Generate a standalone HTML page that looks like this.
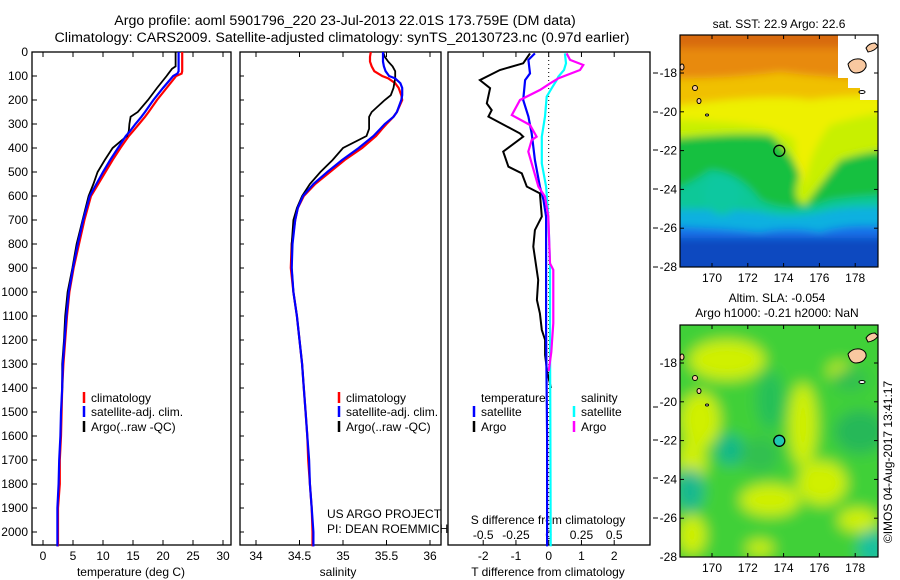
<!DOCTYPE html>
<html><head><meta charset="utf-8">
<style>
html,body{margin:0;padding:0;background:#fff;}
svg{display:block;font-family:"Liberation Sans",sans-serif;}
text{font-size:12px;fill:#000;}
text.ttl{font-size:14.2px;}
</style></head>
<body>
<svg id="fig" width="900" height="580" viewBox="0 0 900 580" xmlns="http://www.w3.org/2000/svg">
<defs>
<filter id="blur3" x="-10%" y="-10%" width="120%" height="120%"><feGaussianBlur stdDeviation="4"/></filter>
<filter id="blur6" x="-20%" y="-20%" width="140%" height="140%"><feGaussianBlur stdDeviation="7"/></filter>
<clipPath id="clipTop"><rect x="680" y="35" width="198" height="232"/></clipPath>
<clipPath id="clipBot"><rect x="680" y="325" width="198" height="232"/></clipPath>
</defs>
<text class="ttl" x="345" y="25" text-anchor="middle">Argo profile: aoml 5901796_220 23-Jul-2013 22.01S 173.759E (DM data)</text>
<text class="ttl" x="342" y="42" text-anchor="middle">Climatology: CARS2009. Satellite-adjusted climatology: synTS_20130723.nc (0.97d earlier)</text>
<g id="p1"></g>
<g id="p2"></g>
<g id="p3"></g>
<g id="m1"></g>
<g id="m2"></g>
<text transform="translate(892,462) rotate(-90)" text-anchor="middle">©IMOS 04-Aug-2017 13:41:17</text>
</svg>
<script>
// ---------- data ----------
const tempDepths = [0,60,70,80,90,100,150,200,250,270,300,330,350,400,450,500,550,600,700,800,900,1000,1100,1200,1300,1400,1500,1600,1700,1800,1900,2000,2060];
const tempClim   = [23.2,23.2,23.2,23.2,23.1,22.2,20.6,19.0,17.6,17.0,16.0,15.0,14.3,12.9,11.6,10.4,9.2,8.0,6.9,6.0,5.1,4.4,4.0,3.7,3.4,3.2,3.1,3.0,2.8,2.8,2.5,2.5,2.5];
const tempSat    = [22.6,22.6,22.6,22.6,22.4,21.7,20.0,18.4,17.0,16.4,15.4,14.5,13.8,12.5,11.2,10.0,8.9,7.8,6.7,5.8,5.0,4.3,3.9,3.6,3.3,3.2,3.0,2.9,2.7,2.6,2.4,2.4,2.4];
const tempArgo   = [22.1,22.1,21.5,21.2,20.9,20.6,19.0,17.5,15.8,14.6,14.4,14.3,14.0,11.6,10.3,9.1,8.4,7.6,6.6,5.6,4.9,4.1,3.7,3.5,3.2,3.2];
const salDepths = [0,20,40,60,80,100,110,130,150,180,200,250,270,300,320,350,400,450,500,550,600,650,700,800,900,1000,1100,1200,1300,1400,1500,1600,1700,1800,1900,2000,2060];
const salClim   = [35.32,35.31,35.31,35.33,35.36,35.45,35.52,35.6,35.64,35.67,35.68,35.62,35.58,35.5,35.45,35.38,35.22,35.02,34.85,34.68,34.55,34.48,34.45,34.41,34.40,34.43,34.47,34.5,34.53,34.55,34.57,34.59,34.6,34.62,34.64,34.65,34.65];
const salSat    = [35.46,35.46,35.46,35.47,35.49,35.53,35.6,35.66,35.68,35.68,35.67,35.62,35.58,35.48,35.43,35.35,35.18,34.99,34.82,34.66,34.54,34.48,34.45,34.42,34.41,34.43,34.47,34.5,34.53,34.55,34.57,34.59,34.61,34.62,34.64,34.66,34.66];
const salArgo   = [35.46,35.48,35.52,35.57,35.6,35.6,35.6,35.59,35.58,35.55,35.48,35.33,35.3,35.3,35.3,35.27,35.0,34.88,34.74,34.62,34.53,34.47,34.43,34.41,34.41,34.43,34.47,34.5,34.53,34.55];
const tdArgoDepth = [6,47,75,117,151,214,242,269,339,353,415,478,506,561,589,686,742,811,950,1033,1089,1158,1200,1262,1330,1400];
const tdArgo      = [-0.57,-0.78,-1.49,-2.1,-1.79,-1.89,-1.74,-1.84,-0.88,-0.78,-1.39,-1.23,-0.82,-0.67,-0.27,-0.21,-0.42,-0.47,-0.32,-0.36,-0.27,-0.21,-0.11,-0.11,-0.05,0.07];
const tdSatDepth = [6,33,89,117,200,269,339,450,561,617,686,1158,1300,1600,2060];
const tdSat      = [-0.42,-0.62,-0.57,-0.72,-0.78,-0.62,-0.52,-0.42,-0.27,-0.16,-0.08,-0.08,-0.07,-0.05,-0.05];
const sdSatDepth = [6,47,75,103,117,151,186,269,353,464,561,686,881,1158,1500,2060];
const sdSat      = [0.124,0.132,0.117,0.073,0.061,0.023,-0.015,-0.028,-0.053,-0.053,-0.02,-0.003,0.01,0.01,0.012,0.015];
const sdArgoDepth = [6,33,54,75,110,131,158,200,263,304,353,367,415,464,561,603,686,881,908,1130,1250,1330];
const sdArgo      = [0.137,0.163,0.264,0.239,0.073,0.01,-0.066,-0.219,-0.282,-0.143,-0.092,-0.13,-0.156,-0.13,-0.079,-0.028,-0.003,0.01,0.035,0.035,0.02,0.0];
const depthTicks = [0,100,200,300,400,500,600,700,800,900,1000,1100,1200,1300,1400,1500,1600,1700,1800,1900,2000];
const tempTicks = [0,5,10,15,20,25,30];
const salTicks = [34,34.5,35,35.5,36];
const tdTicks = [-2,-1,0,1,2];
const sdTicks = [-0.5,-0.25,0,0.25,0.5];
const latTicks = [-18,-20,-22,-24,-26,-28];
const lonTicks = [170,172,174,176,178];
const argoLon = 173.759, argoLat = -22.01;

// ---------- helpers ----------
const NS='http://www.w3.org/2000/svg';
function mk(parent,tag,attrs,txt){const e=document.createElementNS(NS,tag);for(const k in attrs)e.setAttribute(k,attrs[k]);if(txt!==undefined)e.textContent=txt;parent.appendChild(e);return e;}
const TOP=52, BOT=545;
const yD = d => TOP + d*0.24;
function poly(parent,xs,ds,xf,color,w,name){
  const pts=xs.map((v,i)=>xf(v).toFixed(1)+','+yD(ds[i]).toFixed(1)).join(' ');
  const e=mk(parent,'polyline',{points:pts,fill:'none',stroke:color,'stroke-width':w,'stroke-linejoin':'miter'});
  
  
}
function frame(g,x0,x1,name){
  const r=mk(g,'rect',{x:x0,y:TOP,width:x1-x0,height:BOT-TOP,fill:'none',stroke:'#000','stroke-width':1.3});
  
  
}
function legend(g,x,y,color,label,name){
  mk(g,'line',{x1:x,y1:y-10,x2:x,y2:y+1,stroke:color,'stroke-width':2.5});
  const t=mk(g,'text',{x:x+7,y:y},label);
  
  
}

// ---------- panel 1 ----------
const p1=document.getElementById('p1');
const xT = t => 43 + t*6;
frame(p1,32,231,'temperature-axes');
depthTicks.forEach(d=>{
  mk(p1,'line',{x1:32,y1:yD(d),x2:37,y2:yD(d),stroke:'#000'});
  const t=mk(p1,'text',{x:28,y:yD(d)+4,'text-anchor':'end'},String(d));
  
  
});
tempTicks.forEach(v=>{
  mk(p1,'line',{x1:xT(v),y1:TOP,x2:xT(v),y2:TOP+5,stroke:'#000'});
  mk(p1,'line',{x1:xT(v),y1:BOT,x2:xT(v),y2:BOT-5,stroke:'#000'});
  const t=mk(p1,'text',{x:xT(v),y:560,'text-anchor':'middle'},String(v));
  
  
});
mk(p1,'text',{x:131,y:576,'text-anchor':'middle',},'temperature (deg C)');
poly(p1,tempClim,tempDepths,xT,'#ff0000',2.2,'temp-climatology-line');
poly(p1,tempArgo,tempDepths.slice(0,tempArgo.length),xT,'#000',1.8,'temp-argo-line');
poly(p1,tempSat,tempDepths,xT,'#0000ff',2.2,'temp-satellite-line');
legend(p1,84,402,'#ff0000','climatology','legend-climatology');
legend(p1,84,416,'#0000ff','satellite-adj. clim.','legend-satellite');
legend(p1,84,431,'#000','Argo(..raw -QC)','legend-argo');

// ---------- panel 2 ----------
const p2=document.getElementById('p2');
const xS = s => 256 + (s-34)*87;
frame(p2,240,441,'salinity-axes');
depthTicks.forEach(d=>{mk(p2,'line',{x1:240,y1:yD(d),x2:244,y2:yD(d),stroke:'#000'});});
salTicks.forEach(v=>{
  mk(p2,'line',{x1:xS(v),y1:TOP,x2:xS(v),y2:TOP+5,stroke:'#000'});
  mk(p2,'line',{x1:xS(v),y1:BOT,x2:xS(v),y2:BOT-5,stroke:'#000'});
  const t=mk(p2,'text',{x:xS(v),y:560,'text-anchor':'middle'},String(v));
  
  
});
mk(p2,'text',{x:338,y:576,'text-anchor':'middle',},'salinity');
poly(p2,salClim,salDepths,xS,'#ff0000',2.2,'sal-climatology-line');
poly(p2,salArgo,salDepths.slice(0,salArgo.length),xS,'#000',1.8,'sal-argo-line');
poly(p2,salSat,salDepths,xS,'#0000ff',2.2,'sal-satellite-line');
legend(p2,339,402,'#ff0000','climatology','legend-climatology-2');
legend(p2,339,416,'#0000ff','satellite-adj. clim.','legend-satellite-2');
legend(p2,339,431,'#000','Argo(..raw -QC)','legend-argo-2');
mk(p2,'text',{x:327,y:518,},'US ARGO PROJECT');
mk(p2,'text',{x:327,y:533,},'PI: DEAN ROEMMICH');

// ---------- panel 3 ----------
const p3=document.getElementById('p3');
const xTD = v => 548.7 + v*32.75;
const xSD = v => 548.7 + v*131;
frame(p3,448,650,'difference-axes');
mk(p3,'line',{x1:548.7,y1:TOP,x2:548.7,y2:BOT,stroke:'#000','stroke-dasharray':'1,3'});
tdTicks.forEach(v=>{
  mk(p3,'line',{x1:xTD(v),y1:TOP,x2:xTD(v),y2:TOP+5,stroke:'#000'});
  const t=mk(p3,'text',{x:xTD(v),y:560,'text-anchor':'middle'},String(v));
  
  
});
sdTicks.forEach(v=>{
  mk(p3,'line',{x1:xSD(v),y1:BOT,x2:xSD(v),y2:BOT-5,stroke:'#000'});
  const t=mk(p3,'text',{x:xSD(v),y:539,'text-anchor':'middle'},String(v));
  
  
});
mk(p3,'text',{x:548,y:524,'text-anchor':'middle',},'S difference from climatology');
mk(p3,'text',{x:548,y:576,'text-anchor':'middle',},'T difference from climatology');
[73,112,150,189,228,267,407,440,478,518].forEach(y=>mk(p3,'line',{x1:653,y1:y,x2:658,y2:y,stroke:'#000'}));
poly(p3,tdArgo,tdArgoDepth,xTD,'#000',2,'t-diff-argo-line');
poly(p3,tdSat,tdSatDepth,xTD,'#0000ff',2.2,'t-diff-satellite-line');
poly(p3,sdSat,sdSatDepth,xSD,'#00ffff',2.2,'s-diff-satellite-line');
poly(p3,sdArgo,sdArgoDepth,xSD,'#ff00ff',2.2,'s-diff-argo-line');
mk(p3,'text',{x:481,y:402,},'temperature');
mk(p3,'text',{x:581,y:402,},'salinity');
legend(p3,474,416,'#0000ff','satellite','legend-t-satellite');
legend(p3,474,431,'#000','Argo','legend-t-argo');
legend(p3,574,416,'#00ffff','satellite','legend-s-satellite');
legend(p3,574,431,'#ff00ff','Argo','legend-s-argo');

// ---------- maps ----------
const mx = lon => 712 + (lon-170)*17.9;
function mapAxes(g,top,name){
  const bot=top+232;
  const ly = lat => top + 38 + (-lat-18)*19.4;
  const r=mk(g,'rect',{x:680,y:top,width:198,height:232,fill:'none',stroke:'#000','stroke-width':1.2});
  
  
  latTicks.forEach(l=>{
    mk(g,'line',{x1:680,y1:ly(l),x2:684,y2:ly(l),stroke:'#000'});
    mk(g,'line',{x1:878,y1:ly(l),x2:874,y2:ly(l),stroke:'#000'});
    const t=mk(g,'text',{x:677,y:ly(l)+4,'text-anchor':'end'},String(l));
    
    
  });
  lonTicks.forEach(l=>{
    mk(g,'line',{x1:mx(l),y1:top,x2:mx(l),y2:top+4,stroke:'#000'});
    mk(g,'line',{x1:mx(l),y1:bot,x2:mx(l),y2:bot-4,stroke:'#000'});
    const t=mk(g,'text',{x:mx(l),y:bot+15,'text-anchor':'middle'},String(l));
    
    
  });
  const c=mk(g,'circle',{cx:mx(argoLon),cy:ly(argoLat),r:5.5,fill:'none',stroke:'#000','stroke-width':1.3});
  
  
  return ly;
}
function land(g,dy){
  const L=mk(g,'g',{});
  mk(L,'path',{d:`M848 ${64+dy} q4 -6 12 -5 q7 2 6 8 q-3 6 -10 6 q-6 0 -8 -9z`,fill:'#f8c8a0',stroke:'#000','stroke-width':1});
  mk(L,'path',{d:`M866 ${48+dy} q3 -5 9 -5 l3 3 q-3 5 -10 6z`,fill:'#f8c8a0',stroke:'#000','stroke-width':1});
  mk(L,'ellipse',{cx:682,cy:67+dy,rx:2,ry:3,fill:'#f8c8a0',stroke:'#000','stroke-width':1});
  mk(L,'ellipse',{cx:695,cy:88+dy,rx:2.5,ry:2.5,fill:'#f8c8a0',stroke:'#000','stroke-width':1});
  mk(L,'ellipse',{cx:699,cy:101+dy,rx:2,ry:2.5,fill:'#f8c8a0',stroke:'#000','stroke-width':1});
  mk(L,'ellipse',{cx:707,cy:115+dy,rx:1.5,ry:1,fill:'#fff',stroke:'#000','stroke-width':1});
  mk(L,'ellipse',{cx:862,cy:92+dy,rx:3,ry:1.5,fill:'#fff',stroke:'#000','stroke-width':1});
}
// SST map
const m1=document.getElementById('m1');
mk(m1,'text',{x:779,y:28,'text-anchor':'middle',},'sat. SST: 22.9 Argo: 22.6');
const s1=mk(m1,'g',{'clip-path':'url(#clipTop)'});
const b1=mk(s1,'g',{filter:'url(#blur3)'});
mk(b1,'rect',{x:660,y:20,width:240,height:270,fill:'#1870e8'});
mk(b1,'rect',{x:660,y:238,width:240,height:40,fill:'#0c48c0'});
mk(b1,'path',{d:'M660 20 H900 V228 Q850 222 820 232 Q790 226 760 232 Q720 228 660 226 Z',fill:'#10b0e0'});
mk(b1,'path',{d:'M660 20 H900 V208 Q860 205 830 210 Q790 220 760 212 Q720 208 660 210 Z',fill:'#10c898'});
mk(b1,'path',{d:'M660 20 H900 V195 Q860 195 830 200 Q790 215 760 200 Q740 172 710 170 Q690 185 660 195 Z',fill:'#18c040'});
mk(b1,'path',{d:'M660 20 H900 V150 Q870 150 840 160 Q820 185 805 205 Q790 200 800 175 Q790 150 770 135 Q730 132 660 140 Z',fill:'#c8f000'});
mk(b1,'path',{d:'M660 20 H900 V110 Q860 115 830 125 Q810 150 805 185 Q795 170 795 140 Q770 120 660 120 Z',fill:'#eef000'});
mk(b1,'path',{d:'M660 20 H900 V95 Q840 95 810 100 Q770 92 660 108 Z',fill:'#f0c000'});
mk(b1,'path',{d:'M660 20 H900 V78 Q840 80 780 72 Q720 80 660 78 Z',fill:'#e88a10'});
mk(b1,'rect',{x:660,y:20,width:240,height:28,fill:'#d86a10'});
mk(b1,'ellipse',{cx:722,cy:195,rx:18,ry:20,fill:'#10c8a0'});
mk(s1,'path',{d:'M838 35 H878 V100 H860 V88 H848 V78 H838 Z',fill:'#fff'});
land(s1,0);
mapAxes(m1,35,'sst-map-frame');
// SLA map
const m2=document.getElementById('m2');
mk(m2,'text',{x:777,y:302,'text-anchor':'middle',},'Altim. SLA: -0.054');
mk(m2,'text',{x:777,y:317,'text-anchor':'middle',},'Argo h1000: -0.21 h2000: NaN');
const s2=mk(m2,'g',{'clip-path':'url(#clipBot)'});
const b2=mk(s2,'g',{filter:'url(#blur6)'});
mk(b2,'rect',{x:660,y:310,width:240,height:270,fill:'#40d038'});
[[727,360,38,20],[700,420,20,28],[692,462,14,25],[803,425,14,42],[822,483,25,22],[770,500,30,16],[692,535,14,20],[858,520,20,12],[760,548,14,8],[840,372,12,10]].forEach(b=>mk(b2,'ellipse',{cx:b[0],cy:b[1],rx:b[2],ry:b[3],fill:'#d0f000'}));
[[730,450,14,16,'#10b888'],[690,490,14,22,'#18b890'],[860,432,26,22,'#28b858'],[872,548,14,18,'#18c0a0'],[770,400,14,30,'#28c058'],[760,455,20,18,'#30c050'],[850,380,18,12,'#30c050']].forEach(b=>mk(b2,'ellipse',{cx:b[0],cy:b[1],rx:b[2],ry:b[3],fill:b[4]}));
land(s2,290);
mapAxes(m2,325,'sla-map-frame');
document.querySelectorAll('#m2 circle').forEach(c=>c.setAttribute('fill','#20c8b0'));
</script>
</body></html>
